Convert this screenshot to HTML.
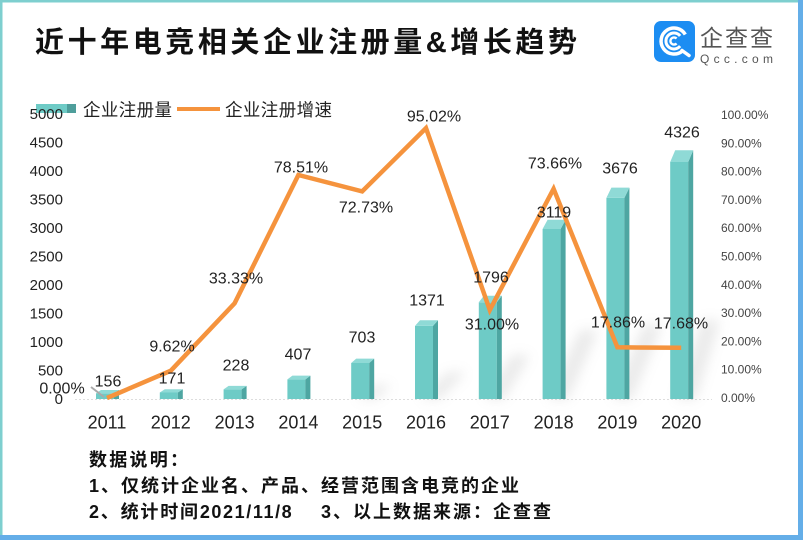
<!DOCTYPE html>
<html><head><meta charset="utf-8">
<style>
html,body{margin:0;padding:0;background:#fff;}
svg{display:block;}
text{font-family:"Liberation Sans","Noto Sans CJK SC",sans-serif;}
</style></head>
<body>
<svg width="803" height="540" viewBox="0 0 803 540" xmlns="http://www.w3.org/2000/svg">
<defs>
<filter id="blur" x="-50%" y="-50%" width="200%" height="200%"><feGaussianBlur stdDeviation="6"/></filter>
</defs>
<rect x="0" y="0" width="803" height="540" fill="#fff"/>
<!-- border -->
<rect x="0" y="0" width="803" height="2.5" fill="#7ECFCF"/>
<rect x="0" y="0" width="2.5" height="540" fill="#7ECFCF"/>
<rect x="798" y="0" width="5" height="540" fill="#64AEE8"/>
<rect x="0" y="535" width="803" height="5" fill="#64AEE8"/>

<!-- title -->
<text x="35" y="52" font-size="29" font-weight="bold" fill="#111" textLength="542" lengthAdjust="spacing">近十年电竞相关企业注册量&amp;增长趋势</text>

<!-- logo -->
<rect x="654" y="21" width="41" height="41" rx="7" fill="#1C8DF2"/>
<path d="M685.3,34.5 A13,13 0 1 0 682.4,51" fill="none" stroke="#fff" stroke-width="3.5"/>
<path d="M682,50.5 L689,55.5" fill="none" stroke="#fff" stroke-width="3.5" stroke-linecap="round"/>
<path d="M680.1,35.9 A8,8 0 1 0 680.1,46.1" fill="none" stroke="#fff" stroke-width="3"/>
<path d="M676.6,38.5 A3.6,3.6 0 1 0 676.6,43.5" fill="none" stroke="#fff" stroke-width="2.4"/>
<text x="700" y="46" font-size="23" fill="#555" textLength="73" lengthAdjust="spacing">企查查</text>
<text x="700" y="63" font-size="12" fill="#555" textLength="73" lengthAdjust="spacing">Qcc.com</text>

<!-- legend -->
<rect x="36" y="104" width="31" height="9" fill="#6ECBC6"/>
<rect x="67" y="104" width="9" height="9" fill="#4E9E9B"/>
<text x="83" y="116" font-size="17.5" fill="#222" textLength="89" lengthAdjust="spacing">企业注册量</text>
<line x1="177" y1="109" x2="220" y2="109" stroke="#F5933D" stroke-width="4"/>
<text x="225" y="116" font-size="17.5" fill="#222" textLength="107" lengthAdjust="spacing">企业注册增速</text>

<!-- left axis -->
<g font-size="15" fill="#222" text-anchor="end">
<text x="63" y="119">5000</text>
<text x="63" y="147.5">4500</text>
<text x="63" y="176">4000</text>
<text x="63" y="204.5">3500</text>
<text x="63" y="233">3000</text>
<text x="63" y="261.5">2500</text>
<text x="63" y="290">2000</text>
<text x="63" y="318.5">1500</text>
<text x="63" y="347">1000</text>
<text x="63" y="375.5">500</text>
<text x="63" y="404">0</text>
</g>

<!-- right axis -->
<g font-size="12" fill="#444">
<text x="721" y="119">100.00%</text>
<text x="721" y="147.3">90.00%</text>
<text x="721" y="175.6">80.00%</text>
<text x="721" y="203.9">70.00%</text>
<text x="721" y="232.2">60.00%</text>
<text x="721" y="260.5">50.00%</text>
<text x="721" y="288.8">40.00%</text>
<text x="721" y="317.1">30.00%</text>
<text x="721" y="345.4">20.00%</text>
<text x="721" y="373.7">10.00%</text>
<text x="721" y="402">0.00%</text>
</g>

<!-- baseline -->
<line x1="75" y1="399.5" x2="712" y2="399.5" stroke="#ddd" stroke-width="1" stroke-dasharray="2 2"/>

<!-- shadows -->
<g fill="#a0a0a0" opacity="0.22" filter="url(#blur)">
<polygon points="356,399 376,399 392,385 374,385"/>
<polygon points="420,399 440,399 466,372 448,372"/>
<polygon points="484,399 504,399 530,355 512,355"/>
<polygon points="548,399 568,399 598,330 580,330"/>
<polygon points="612,399 632,399 662,325 644,325"/>
<polygon points="676,399 696,399 720,320 702,320"/>
</g>

<!-- bars -->
<g>
<rect x="96" y="393.3" width="18" height="5.7" fill="#6ECBC6"/>
<polygon points="114,393.3 119,390 119,399 114,399" fill="#4EA6A2"/>
<polygon points="96,393.3 114,393.3 119,390 101,390" fill="#8FDAD6"/>

<rect x="159.8" y="392.5" width="18" height="6.5" fill="#6ECBC6"/>
<polygon points="177.8,392.5 182.8,389.2 182.8,399 177.8,399" fill="#4EA6A2"/>
<polygon points="159.8,392.5 177.8,392.5 182.8,389.2 164.8,389.2" fill="#8FDAD6"/>

<rect x="223.6" y="389.4" width="18" height="9.6" fill="#6ECBC6"/>
<polygon points="241.6,389.4 246.6,385.9 246.6,399 241.6,399" fill="#4EA6A2"/>
<polygon points="223.6,389.4 241.6,389.4 246.6,385.9 228.6,385.9" fill="#8FDAD6"/>

<rect x="287.4" y="379.4" width="18" height="19.6" fill="#6ECBC6"/>
<polygon points="305.4,379.4 310.4,375.6 310.4,399 305.4,399" fill="#4EA6A2"/>
<polygon points="287.4,379.4 305.4,379.4 310.4,375.6 292.4,375.6" fill="#8FDAD6"/>

<rect x="351.2" y="363" width="18" height="36" fill="#6ECBC6"/>
<polygon points="369.2,363 374.2,358.6 374.2,399 369.2,399" fill="#4EA6A2"/>
<polygon points="351.2,363 369.2,363 374.2,358.6 356.2,358.6" fill="#8FDAD6"/>

<rect x="415" y="325.9" width="18" height="73.1" fill="#6ECBC6"/>
<polygon points="433,325.9 438,320.2 438,399 433,399" fill="#4EA6A2"/>
<polygon points="415,325.9 433,325.9 438,320.2 420,320.2" fill="#8FDAD6"/>

<rect x="478.8" y="302.3" width="18" height="96.7" fill="#6ECBC6"/>
<polygon points="496.8,302.3 501.8,295.7 501.8,399 496.8,399" fill="#4EA6A2"/>
<polygon points="478.8,302.3 496.8,302.3 501.8,295.7 483.8,295.7" fill="#8FDAD6"/>

<rect x="542.6" y="229" width="18" height="170" fill="#6ECBC6"/>
<polygon points="560.6,229 565.6,219.7 565.6,399 560.6,399" fill="#4EA6A2"/>
<polygon points="542.6,229 560.6,229 565.6,219.7 547.6,219.7" fill="#8FDAD6"/>

<rect x="606.4" y="197.9" width="18" height="201.1" fill="#6ECBC6"/>
<polygon points="624.4,197.9 629.4,187.6 629.4,399 624.4,399" fill="#4EA6A2"/>
<polygon points="606.4,197.9 624.4,197.9 629.4,187.6 611.4,187.6" fill="#8FDAD6"/>

<rect x="670.2" y="162" width="18" height="237" fill="#6ECBC6"/>
<polygon points="688.2,162 693.2,150.3 693.2,399 688.2,399" fill="#4EA6A2"/>
<polygon points="670.2,162 688.2,162 693.2,150.3 675.2,150.3" fill="#8FDAD6"/>
</g>

<!-- small leader -->
<line x1="91" y1="387" x2="104" y2="397" stroke="#aaa" stroke-width="2"/>

<!-- line -->
<polyline points="107,398 170.8,370.7 234.6,303.3 298.4,175 362.2,191.4 426,128.1 489.8,310 553.6,188.8 617.4,347.3 681.2,347.8" fill="none" stroke="#F5933D" stroke-width="4.5" stroke-linejoin="miter"/>

<!-- data labels -->
<g font-size="16" fill="#222" text-anchor="middle">
<text x="62" y="393.5">0.00%</text>
<text x="108" y="386.5">156</text>
<text x="172" y="383.5">171</text>
<text x="172" y="351.5">9.62%</text>
<text x="236" y="370.5">228</text>
<text x="236" y="283.5">33.33%</text>
<text x="298" y="359.5">407</text>
<text x="301" y="172.5">78.51%</text>
<text x="362" y="342.5">703</text>
<text x="366" y="212.5">72.73%</text>
<text x="427" y="305.5">1371</text>
<text x="434" y="121.5">95.02%</text>
<text x="491" y="282.5">1796</text>
<text x="492" y="329.5">31.00%</text>
<text x="554" y="217.5">3119</text>
<text x="555" y="168.5">73.66%</text>
<text x="620" y="173.5">3676</text>
<text x="618" y="327.5">17.86%</text>
<text x="682" y="137.5">4326</text>
<text x="681" y="328.5">17.68%</text>
</g>

<!-- x axis labels -->
<g font-size="18" fill="#222" text-anchor="middle">
<text x="107" y="428.5">2011</text>
<text x="170.8" y="428.5">2012</text>
<text x="234.6" y="428.5">2013</text>
<text x="298.4" y="428.5">2014</text>
<text x="362.2" y="428.5">2015</text>
<text x="426" y="428.5">2016</text>
<text x="489.8" y="428.5">2017</text>
<text x="553.6" y="428.5">2018</text>
<text x="617.4" y="428.5">2019</text>
<text x="681.2" y="428.5">2020</text>
</g>

<!-- notes -->
<g font-size="18" font-weight="bold" fill="#111">
<text x="89" y="466" textLength="99" lengthAdjust="spacing">数据说明：</text>
<text x="89" y="492" textLength="430" lengthAdjust="spacing">1、仅统计企业名、产品、经营范围含电竞的企业</text>
<text x="89" y="518"><tspan letter-spacing="1.8">2、统计时间</tspan><tspan letter-spacing="1.6">2021/11/8</tspan></text>
<text x="321" y="518" textLength="230" lengthAdjust="spacing">3、以上数据来源：企查查</text>
</g>
</svg>
</body></html>
